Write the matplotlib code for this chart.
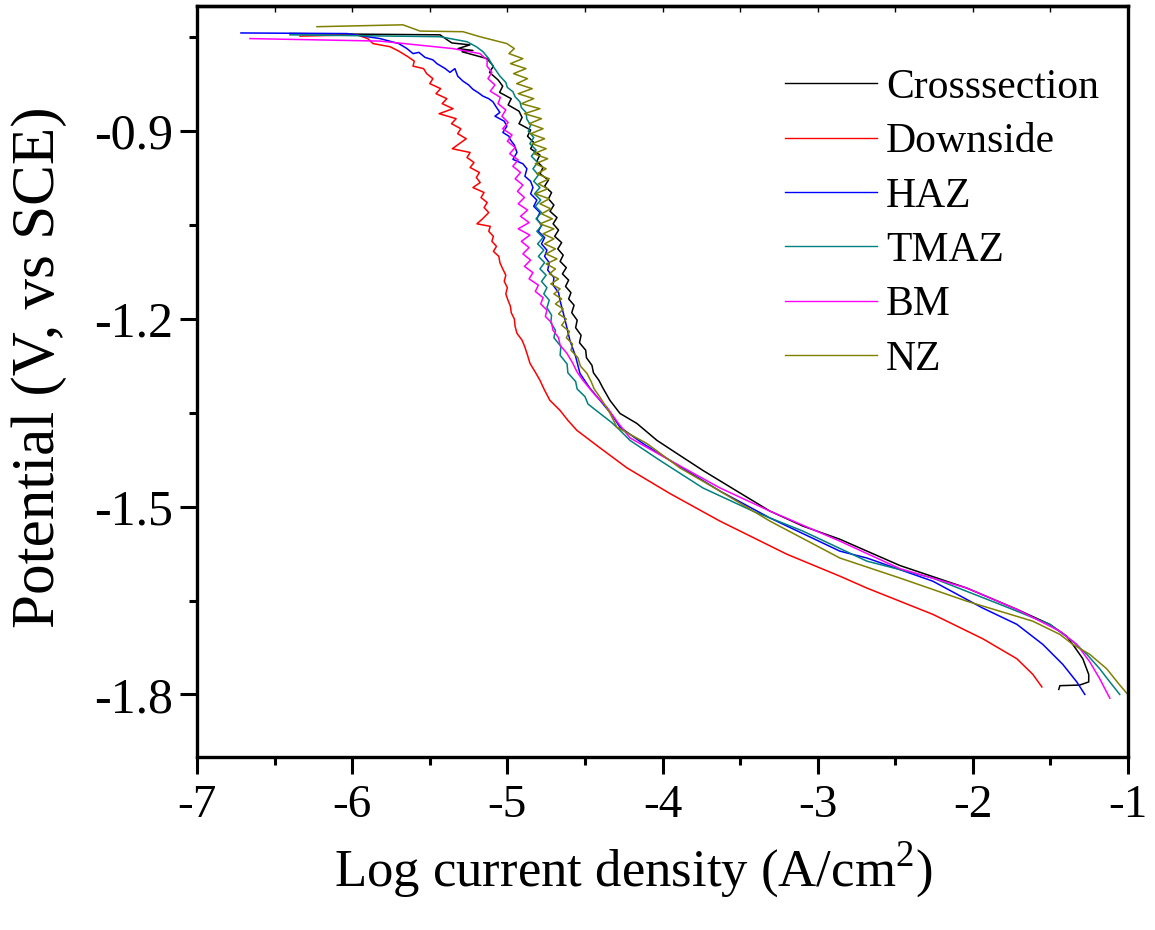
import matplotlib
matplotlib.use("Agg")
import matplotlib.pyplot as plt
import numpy as np

plt.rcParams['font.family'] = ['Liberation Serif', 'DejaVu Serif']
plt.rcParams['mathtext.fontset'] = 'custom'
plt.rcParams['mathtext.rm'] = 'Liberation Serif'

labels = ["Crosssection", "Downside", "HAZ", "TMAZ", "BM", "NZ"]
colors = ["#000000", "#ff0000", "#0000ff", "#008080", "#ff00ff", "#808000"]

# Crosssection (black)
cross_x = [-6.401, -5.434, -5.370, -5.357, -5.241, -5.318, -5.222, -5.292, -5.131,
           -5.090, -5.115, -5.060, -5.030, -5.050, -4.975, -4.995, -4.925, -4.905, -4.925,
           -4.850, -4.870, -4.830, -4.850, -4.790, -4.810, -4.770, -4.790, -4.735, -4.760,
           -4.715, -4.735, -4.700, -4.725, -4.680, -4.705, -4.670, -4.695, -4.650, -4.675,
           -4.640, -4.660, -4.620, -4.645, -4.605, -4.625, -4.590, -4.605, -4.570, -4.585,
           -4.550, -4.560, -4.525, -4.535, -4.495, -4.490, -4.455, -4.445, -4.410, -4.385,
           -4.339, -4.274, -4.165, -4.036, -3.907, -3.740, -3.521, -3.308, -3.095,
           -2.857, -2.470, -2.039, -1.716, -1.504, -1.394, -1.356, -1.291, -1.253, -1.253,
           -1.311, -1.439, -1.446]
cross_y = [-0.744, -0.746, -0.757, -0.759, -0.762, -0.768, -0.771, -0.773, -0.784,
           -0.796, -0.806, -0.818, -0.828, -0.838, -0.848, -0.858, -0.868, -0.878, -0.888,
           -0.898, -0.908, -0.918, -0.928, -0.938, -0.948, -0.958, -0.968, -0.978, -0.988,
           -0.998, -1.008, -1.018, -1.028, -1.038, -1.048, -1.058, -1.068, -1.078, -1.088,
           -1.098, -1.108, -1.118, -1.128, -1.138, -1.148, -1.158, -1.168, -1.178, -1.190,
           -1.202, -1.214, -1.226, -1.238, -1.250, -1.262, -1.274, -1.286, -1.298, -1.310,
           -1.330, -1.351, -1.367, -1.394, -1.415, -1.442, -1.475, -1.507, -1.531,
           -1.552, -1.594, -1.630, -1.664, -1.688, -1.707, -1.720, -1.743, -1.768, -1.780,
           -1.785, -1.786, -1.792]

# Downside (red)
down_x = [-6.336, -5.969, -5.900, -5.866, -5.756, -5.700, -5.647, -5.600, -5.608, -5.540,
          -5.520, -5.480, -5.500, -5.430, -5.460, -5.390, -5.420, -5.350, -5.440, -5.330,
          -5.360, -5.300, -5.320, -5.265, -5.310, -5.355, -5.240, -5.260, -5.215, -5.240,
          -5.180, -5.200, -5.175, -5.222, -5.150, -5.170, -5.130, -5.150, -5.120, -5.160,
          -5.196, -5.110, -5.120, -5.090, -5.100, -5.070, -5.090, -5.055, -5.048, -5.030,
          -5.010, -5.020, -5.000, -5.010, -4.996, -4.980, -4.975, -4.955, -4.950, -4.938,
          -4.905, -4.887, -4.870, -4.854, -4.820, -4.790, -4.760, -4.726, -4.661, -4.610,
          -4.552, -4.403, -4.229, -3.952, -3.630, -3.198, -2.857, -2.683, -2.258,
          -1.936, -1.716, -1.613, -1.555]
down_y = [-0.748, -0.746, -0.752, -0.760, -0.765, -0.772, -0.780, -0.788, -0.796, -0.800,
          -0.808, -0.816, -0.824, -0.832, -0.840, -0.848, -0.856, -0.864, -0.872, -0.880,
          -0.888, -0.896, -0.904, -0.912, -0.920, -0.928, -0.934, -0.942, -0.950, -0.958,
          -0.966, -0.974, -0.982, -0.990, -0.998, -1.006, -1.014, -1.022, -1.030, -1.040,
          -1.048, -1.052, -1.060, -1.068, -1.076, -1.084, -1.092, -1.100, -1.110, -1.120,
          -1.130, -1.140, -1.150, -1.160, -1.170, -1.180, -1.190, -1.200, -1.212, -1.223,
          -1.234, -1.245, -1.258, -1.271, -1.285, -1.298, -1.314, -1.330, -1.346, -1.362,
          -1.378, -1.406, -1.438, -1.479, -1.523, -1.576, -1.611, -1.630, -1.672,
          -1.711, -1.743, -1.768, -1.788]

# HAZ (blue)
haz_x = [-6.717, -6.034, -5.821, -5.700, -5.647, -5.608, -5.570, -5.531, -5.480, -5.454,
         -5.400, -5.370, -5.338, -5.320, -5.286, -5.250, -5.222, -5.190, -5.157, -5.120,
         -5.093, -5.070, -5.048, -5.080, -5.020, -5.003, -5.029, -4.990, -4.983, -4.955,
         -4.938, -4.964, -4.900, -4.874, -4.887, -4.850, -4.835, -4.850, -4.810, -4.830,
         -4.790, -4.810, -4.780, -4.800, -4.760, -4.780, -4.745, -4.760, -4.730, -4.740,
         -4.700, -4.705, -4.670, -4.661, -4.640, -4.620, -4.597, -4.560, -4.532, -4.470,
         -4.403, -4.330, -4.274, -4.126, -3.952, -3.630, -3.308, -2.857, -2.683, -2.258,
         -1.936, -1.716, -1.549, -1.420, -1.330, -1.278]
haz_y = [-0.743, -0.744, -0.752, -0.760, -0.768, -0.776, -0.774, -0.782, -0.786, -0.792,
         -0.800, -0.806, -0.800, -0.812, -0.820, -0.826, -0.833, -0.838, -0.844, -0.848,
         -0.853, -0.862, -0.870, -0.876, -0.884, -0.892, -0.902, -0.908, -0.913, -0.922,
         -0.934, -0.945, -0.952, -0.960, -0.972, -0.980, -0.990, -1.000, -1.010, -1.020,
         -1.030, -1.040, -1.050, -1.060, -1.070, -1.080, -1.090, -1.100, -1.110, -1.122,
         -1.134, -1.146, -1.158, -1.170, -1.190, -1.210, -1.234, -1.260, -1.287, -1.310,
         -1.330, -1.352, -1.373, -1.399, -1.426, -1.475, -1.518, -1.571, -1.582, -1.619,
         -1.662, -1.688, -1.720, -1.752, -1.780, -1.800]

# TMAZ (teal)
tmaz_x = [-6.401, -5.434, -5.260, -5.200, -5.157, -5.120, -5.093, -5.070, -5.048, -5.010,
          -5.000, -4.964, -4.950, -4.919, -4.910, -4.880, -4.874, -4.850, -4.865, -4.830,
          -4.855, -4.815, -4.845, -4.805, -4.835, -4.800, -4.830, -4.790, -4.825, -4.785,
          -4.820, -4.780, -4.815, -4.775, -4.810, -4.770, -4.805, -4.765, -4.800, -4.760,
          -4.790, -4.750, -4.780, -4.745, -4.765, -4.730, -4.745, -4.715, -4.720, -4.690,
          -4.700, -4.655, -4.660, -4.615, -4.610, -4.560, -4.550, -4.500, -4.480, -4.403,
          -4.330, -4.274, -4.210, -4.017, -3.740, -3.418, -3.095, -2.683, -2.258, -1.826,
          -1.504, -1.356, -1.265, -1.182, -1.117, -1.053]
tmaz_y = [-0.746, -0.749, -0.757, -0.765, -0.773, -0.784, -0.796, -0.804, -0.812, -0.822,
          -0.830, -0.837, -0.845, -0.853, -0.862, -0.870, -0.881, -0.890, -0.900, -0.910,
          -0.920, -0.930, -0.940, -0.950, -0.960, -0.970, -0.980, -0.990, -1.000, -1.010,
          -1.020, -1.030, -1.040, -1.050, -1.060, -1.070, -1.080, -1.090, -1.100, -1.110,
          -1.120, -1.130, -1.140, -1.150, -1.160, -1.170, -1.182, -1.194, -1.206, -1.218,
          -1.230, -1.244, -1.258, -1.272, -1.286, -1.300, -1.312, -1.324, -1.336, -1.351,
          -1.365, -1.378, -1.394, -1.426, -1.470, -1.507, -1.539, -1.587, -1.614, -1.656,
          -1.688, -1.715, -1.736, -1.759, -1.780, -1.800]

# BM (magenta)
bm_x = [-6.659, -5.821, -5.351, -5.177, -5.130, -5.131, -5.100, -5.125, -5.080, -5.110,
        -5.045, -5.060, -5.010, -5.035, -4.995, -5.030, -4.970, -5.000, -4.950, -4.985,
        -4.930, -4.965, -4.915, -4.950, -4.900, -4.935, -4.890, -4.930, -4.870, -4.915,
        -4.860, -4.930, -4.855, -4.910, -4.860, -4.900, -4.850, -4.890, -4.835, -4.860,
        -4.800, -4.820, -4.770, -4.785, -4.745, -4.755, -4.715, -4.706, -4.670, -4.660,
        -4.616, -4.580, -4.550, -4.513, -4.440, -4.358, -4.290, -4.210, -3.952, -3.630,
        -3.308, -2.857, -2.470, -2.039, -1.716, -1.439, -1.330, -1.246, -1.182, -1.117]
bm_y = [-0.752, -0.756, -0.768, -0.776, -0.786, -0.796, -0.806, -0.816, -0.826, -0.836,
        -0.846, -0.856, -0.866, -0.876, -0.886, -0.896, -0.906, -0.916, -0.926, -0.936,
        -0.946, -0.956, -0.966, -0.976, -0.986, -0.996, -1.006, -1.016, -1.026, -1.036,
        -1.046, -1.056, -1.066, -1.076, -1.086, -1.096, -1.106, -1.116, -1.126, -1.136,
        -1.146, -1.156, -1.166, -1.176, -1.186, -1.196, -1.206, -1.218, -1.230, -1.242,
        -1.255, -1.270, -1.285, -1.298, -1.320, -1.341, -1.365, -1.390, -1.426, -1.470,
        -1.507, -1.555, -1.599, -1.630, -1.664, -1.699, -1.720, -1.748, -1.775, -1.806]

# NZ (olive)
nz_x = [-6.227, -5.673, -5.563, -5.286, -5.177, -5.003, -4.955, -4.990, -4.900, -4.980,
        -4.880, -4.960, -4.870, -4.940, -4.840, -4.930, -4.830, -4.910, -4.790, -4.890,
        -4.780, -4.860, -4.770, -4.850, -4.760, -4.840, -4.750, -4.830, -4.740, -4.820,
        -4.750, -4.810, -4.730, -4.800, -4.740, -4.820, -4.730, -4.790, -4.720, -4.780,
        -4.710, -4.790, -4.700, -4.770, -4.700, -4.760, -4.690, -4.750, -4.680, -4.750,
        -4.690, -4.730, -4.670, -4.720, -4.660, -4.700, -4.650, -4.690, -4.640, -4.670,
        -4.620, -4.650, -4.600, -4.620, -4.580, -4.590, -4.545, -4.530, -4.487, -4.460,
        -4.440, -4.403, -4.340, -4.294, -4.101, -3.888, -3.630, -3.308, -2.857, -2.470,
        -2.039, -1.613, -1.439, -1.356, -1.246, -1.137, -1.053, -1.001]
nz_y = [-0.733, -0.730, -0.740, -0.741, -0.749, -0.760, -0.768, -0.776, -0.784, -0.792,
        -0.800, -0.808, -0.816, -0.824, -0.832, -0.840, -0.848, -0.856, -0.864, -0.872,
        -0.880, -0.888, -0.896, -0.904, -0.912, -0.920, -0.928, -0.936, -0.944, -0.952,
        -0.960, -0.968, -0.976, -0.984, -0.992, -1.000, -1.008, -1.016, -1.024, -1.032,
        -1.040, -1.048, -1.056, -1.064, -1.072, -1.080, -1.088, -1.096, -1.104, -1.112,
        -1.120, -1.128, -1.136, -1.144, -1.152, -1.160, -1.168, -1.176, -1.184, -1.192,
        -1.200, -1.210, -1.220, -1.230, -1.240, -1.250, -1.262, -1.275, -1.287, -1.300,
        -1.312, -1.325, -1.350, -1.373, -1.399, -1.438, -1.475, -1.523, -1.582, -1.614,
        -1.651, -1.683, -1.704, -1.720, -1.736, -1.759, -1.785, -1.800]

series_x = [cross_x, down_x, haz_x, tmaz_x, bm_x, nz_x]
series_y = [cross_y, down_y, haz_y, tmaz_y, bm_y, nz_y]

xticks = [-7, -6, -5, -4, -3, -2, -1]
yticks = [-0.9, -1.2, -1.5, -1.8]

fig = plt.figure(figsize=(11.55, 9.3), dpi=100)
ax = fig.add_axes([0.1706, 0.186, 0.806, 0.8075])

for xs, ys, c, lab in zip(series_x, series_y, colors, labels):
    ax.plot(xs, ys, color=c, lw=1.1, label=lab)

ax.set_xlim(-7, -1)
ax.set_ylim(-1.9, -0.7)
ax.set_xticks(xticks)
ax.set_xticklabels([str(t) for t in xticks])
ax.set_yticks(yticks)
ax.set_yticklabels(["%.1f" % t for t in yticks])
ax.set_xticks(np.arange(-6.5, -1.0, 1.0), minor=True)
ax.set_yticks([-0.75, -1.05, -1.35, -1.65], minor=True)
ax.tick_params(which='major', direction='out', length=12, width=2.2)
ax.tick_params(which='minor', direction='out', length=6, width=2.2)
ax.tick_params(axis='x', which='major', labelsize=34, pad=8)
ax.tick_params(axis='y', which='major', labelsize=36, pad=5)

for s in ax.spines.values():
    s.set_linewidth(2.4)

top = ax.secondary_xaxis('top')
top.set_xticks(np.arange(-7, -0.9, 0.5))
top.tick_params(direction='in', length=4, width=1.0, labeltop=False)
top.spines['top'].set_linewidth(2.4)

ax.set_ylabel("Potential (V, vs SCE)", fontsize=44)
ax.yaxis.set_label_coords(-0.14, 0.519)
ax.set_xlabel(r"Log current density (A/cm$^{\mathregular{2}}$)", fontsize=38)
ax.xaxis.set_label_coords(0.469, -0.11)

leg = ax.legend(loc='upper left', bbox_to_anchor=(0.6316, 0.917), frameon=False,
                fontsize=30, handlelength=2.2, handletextpad=0.22, labelspacing=0.38,
                borderaxespad=0, borderpad=0)
for line in leg.get_lines():
    line.set_linewidth(1.0)

fig.savefig("out.png", dpi=100)
